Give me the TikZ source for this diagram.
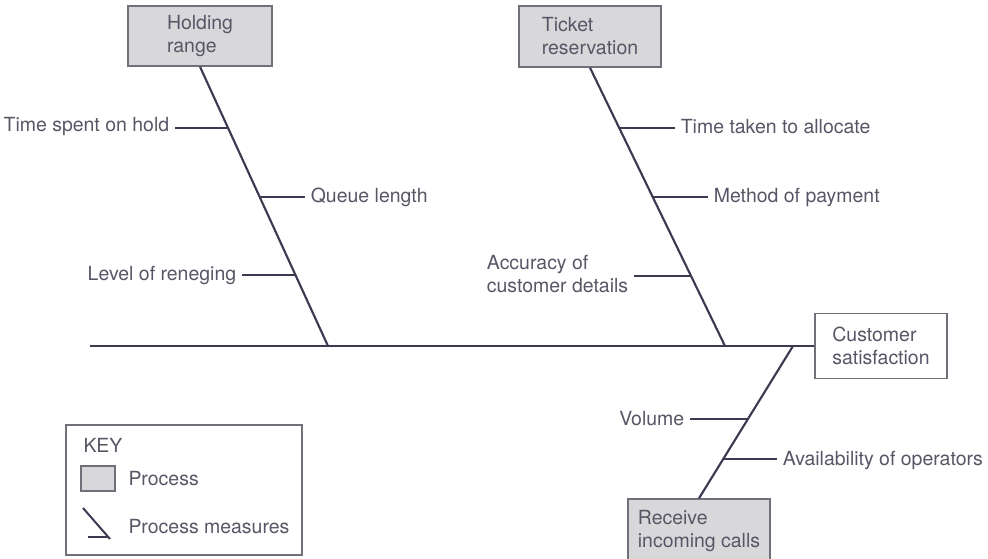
\documentclass[tikz,border=0pt]{standalone}
\usepackage{fontspec}
\setmainfont{TeX Gyre Heros}
\usetikzlibrary{calc}

\definecolor{bonecol}{RGB}{58,58,80}
\definecolor{labelcol}{RGB}{86,86,102}
\definecolor{procfill}{RGB}{216,216,218}
\definecolor{framecol}{RGB}{112,112,122}

\tikzset{every picture/.style={line width=0.75pt}}
\tikzset{
    procbox/.style={draw=framecol, fill=procfill, line width=1.1pt, align=left, inner sep=0pt},
    effectbox/.style={draw=framecol, fill=white, line width=1.1pt, align=left, inner sep=0pt},
    measure/.style={inner sep=4pt, align=left},
    bone/.style={draw=bonecol, line width=1.6pt},
    tick/.style={draw=bonecol, line width=1.5pt}
}

\begin{document}
\begin{tikzpicture}[
            x=0.75pt,
            y=0.75pt,
            yscale=-1,
            xscale=1,
            every node/.style={text=labelcol, font=\fontsize{14.6pt}{17.3pt}\selectfont},
            line width=0.75pt
        ]
            \useasboundingbox (0,0) rectangle (988,559);

            \node (hr) [procbox, minimum width=108pt, minimum height=45pt] at (200,36) {Holding\\range};
            \node (tr) [procbox, minimum width=106.5pt, minimum height=45.75pt] at (590,36.5) {Ticket\\reservation};
            \node (ric) [procbox, minimum width=106.5pt, minimum height=48pt] at (699,531) {Receive\\incoming calls};
            \node (cs) [effectbox, minimum width=99pt, minimum height=48.75pt] at (881,346) {Customer\\satisfaction};

            \coordinate (sp0) at (90,346);
            \coordinate (hs) at (328,346);
            \coordinate (ts) at (725,346);
            \coordinate (ls) at (793,346);

            \draw [bone] (sp0) -- (cs.west);
            \draw [bone] (hr.south) -- (hs);
            \draw [bone] (tr.south) -- (ts);
            \draw [bone] (ls) -- (ric.north);

            \coordinate (h1) at ($(hr.south)!0.218!(hs)$);
            \coordinate (h2) at ($(hr.south)!0.468!(hs)$);
            \coordinate (h3) at ($(hr.south)!0.746!(hs)$);
            \coordinate (t1) at ($(tr.south)!0.215!(ts)$);
            \coordinate (t2) at ($(tr.south)!0.466!(ts)$);
            \coordinate (t3) at ($(tr.south)!0.749!(ts)$);
            \coordinate (l1) at ($(ls)!0.477!(ric.north)$);
            \coordinate (l2) at ($(ls)!0.745!(ric.north)$);

            \node (tsh) [measure, anchor=east] at (175,127) {Time spent on hold};
            \node (ql) [measure, anchor=west] at (305,197) {Queue length};
            \node (lr) [measure, anchor=east] at (242,275) {Level of reneging};
            \node (tta) [measure, anchor=west] at (675,127) {Time taken to allocate};
            \node (mop) [measure, anchor=west] at (708,197) {Method of payment};
            \node (acd) [measure, anchor=east] at (634,274) {Accuracy of\\customer details};
            \node (vol) [measure, anchor=east] at (690,419) {Volume};
            \node (aoo) [measure, anchor=west] at (777,460) {Availability of operators};

            \draw [tick] (h1) -- (h1 -| tsh.east);
            \draw [tick] (h2) -- (h2 -| ql.west);
            \draw [tick] (h3) -- (h3 -| lr.east);
            \draw [tick] (t1) -- (t1 -| tta.west);
            \draw [tick] (t2) -- (t2 -| mop.west);
            \draw [tick] (t3) -- (t3 -| acd.east);
            \draw [tick] (l1) -- (l1 -| vol.east);
            \draw [tick] (l2) -- (l2 -| aoo.west);

            % key
            \draw [draw=framecol, line width=1.1pt] (66,425) rectangle (302,555);
            \node (keyt) [anchor=west, inner sep=0.75pt] at (82,445) {KEY};
            \draw [draw=framecol, fill=procfill, line width=1.1pt] (81,466) rectangle (115,491);
            \node (keyp) [anchor=west, inner sep=0.75pt] at (127,479) {Process};
            \draw [bonecol, line width=1.5pt] (83,508) -- (110,539);
            \draw [bonecol, line width=1.5pt] (88,537) -- (109,537);
            \node (keym) [anchor=west, inner sep=0.75pt] at (127,527) {Process measures};
        \end{tikzpicture}
\end{document}
